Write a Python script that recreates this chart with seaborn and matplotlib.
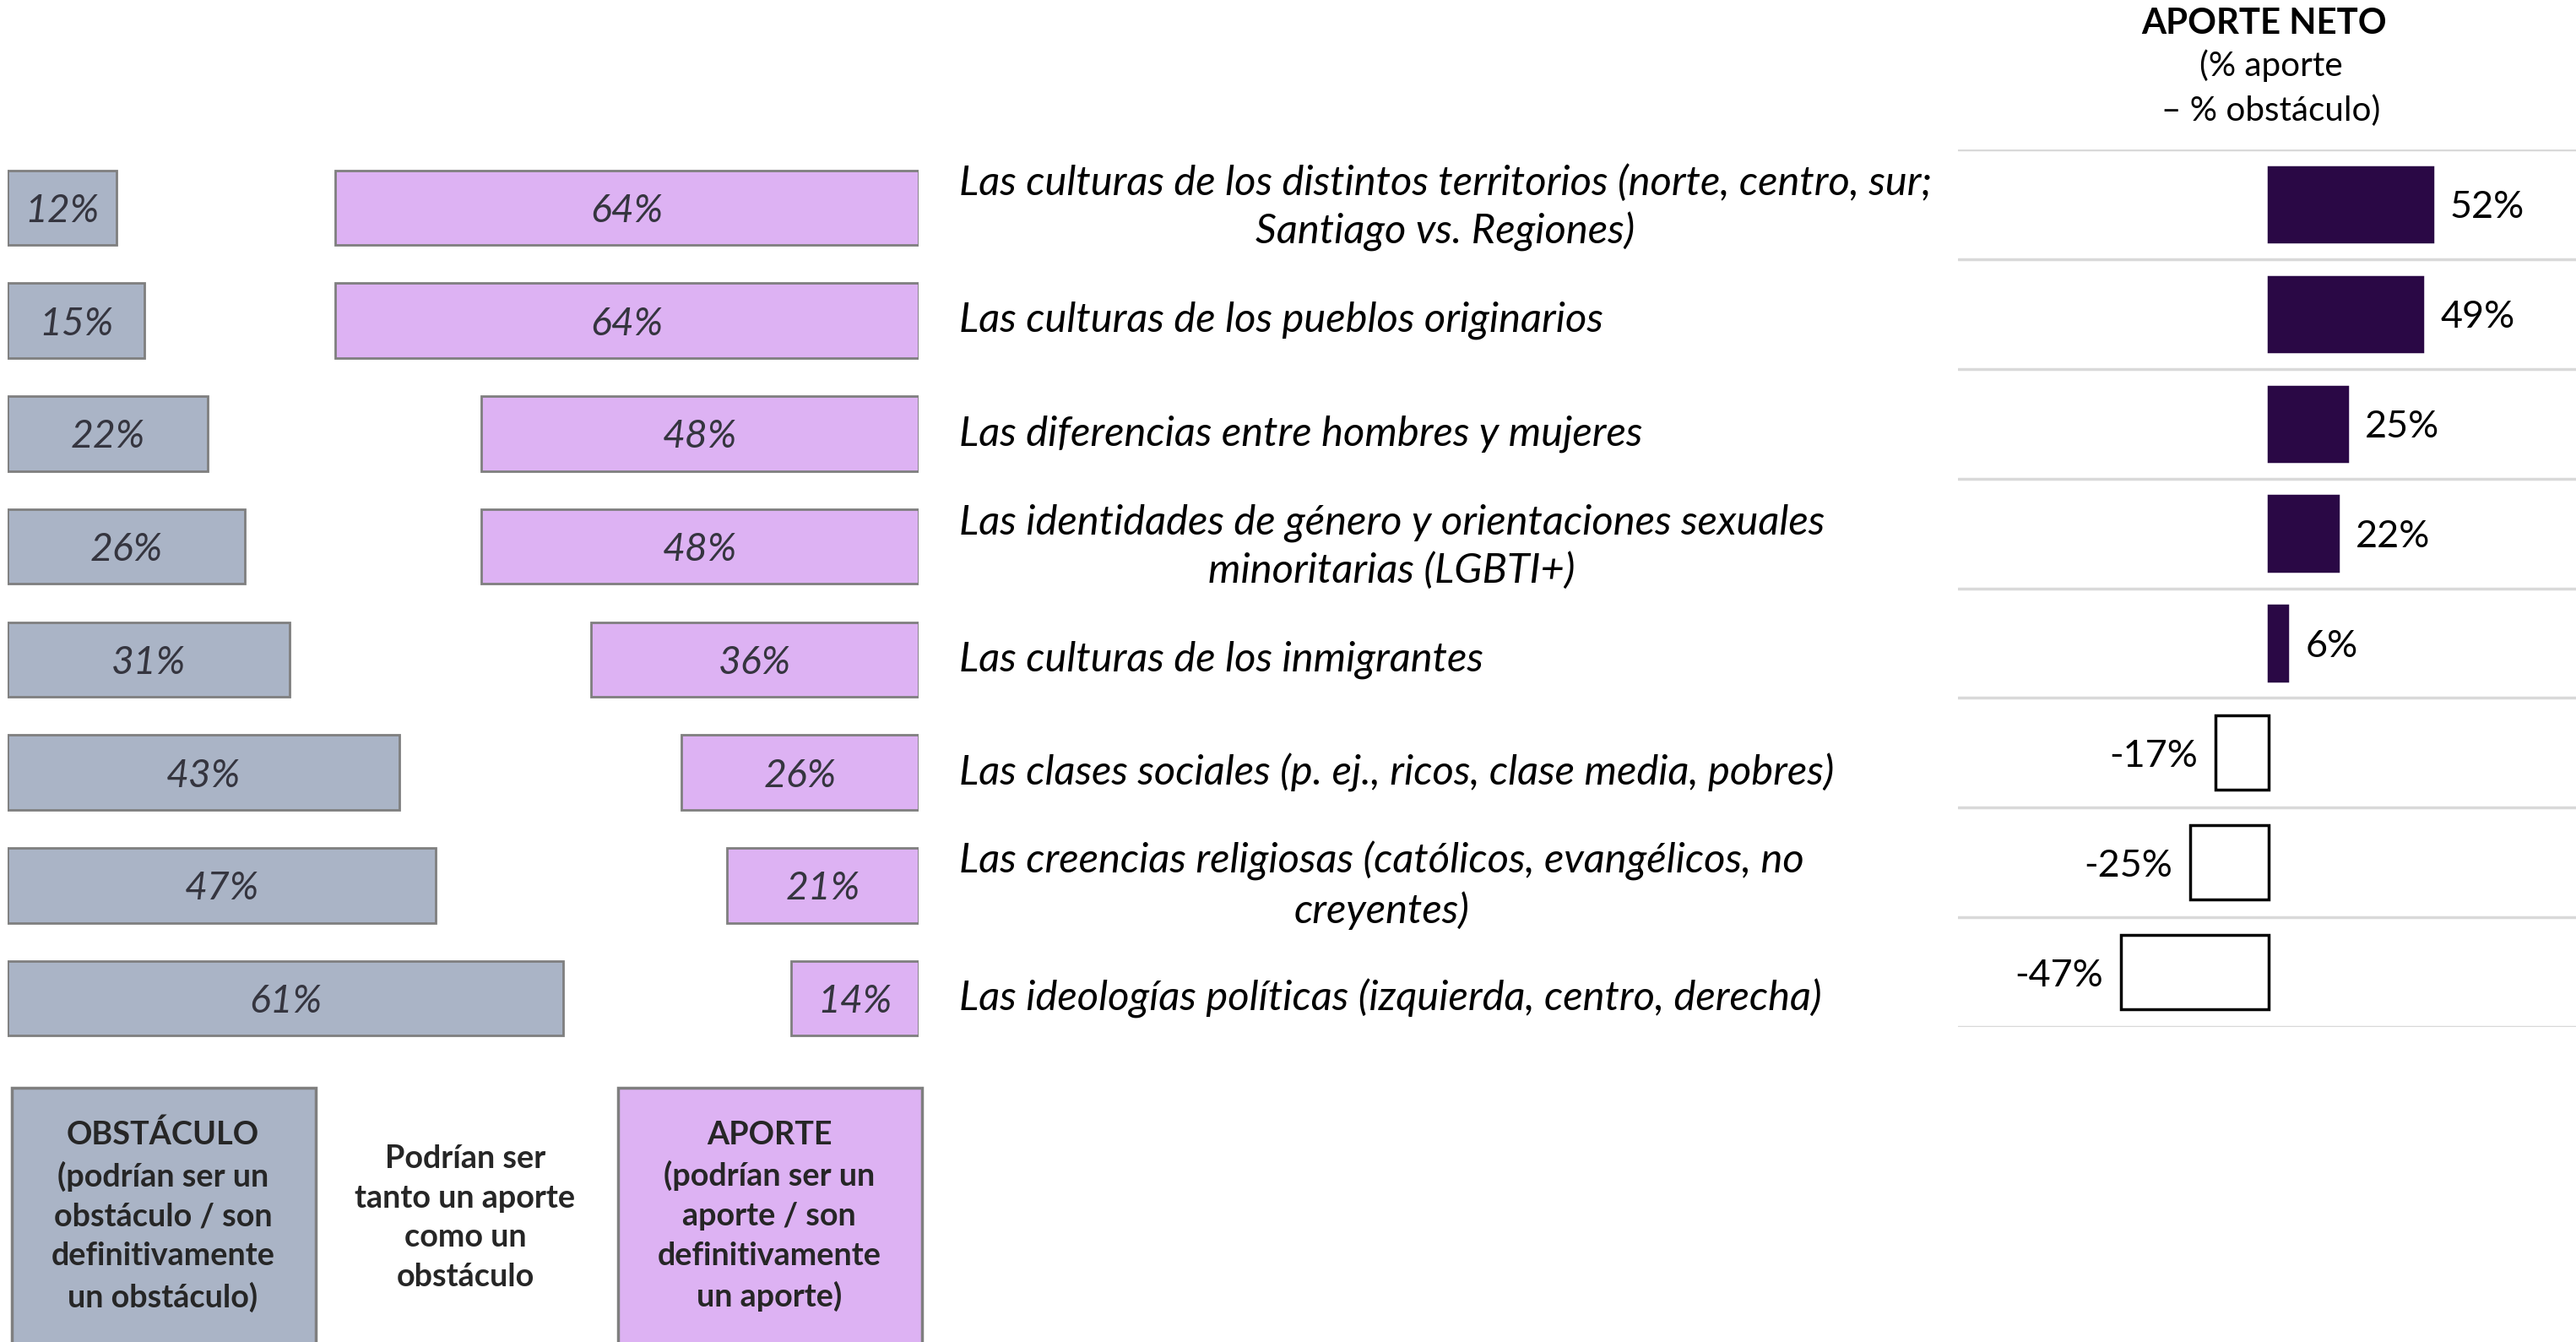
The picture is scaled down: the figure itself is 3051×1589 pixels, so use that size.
import matplotlib
matplotlib.use("Agg")
import matplotlib.pyplot as plt
import matplotlib.transforms as mtransforms
from matplotlib.patches import Rectangle
import seaborn as sns
import pandas as pd

# ---------------- data ----------------
categorias = [
    "Las culturas de los distintos territorios (norte, centro, sur;\nSantiago vs. Regiones)",
    "Las culturas de los pueblos originarios",
    "Las diferencias entre hombres y mujeres",
    "Las identidades de género y orientaciones sexuales\nminoritarias (LGBTI+)",
    "Las culturas de los inmigrantes",
    "Las clases sociales (p. ej., ricos, clase media, pobres)",
    "Las creencias religiosas (católicos, evangélicos, no\ncreyentes)",
    "Las ideologías políticas (izquierda, centro, derecha)",
]
obstaculo = [12, 15, 22, 26, 31, 43, 47, 61]
aporte = [64, 64, 48, 48, 36, 26, 21, 14]
aporte_neto = [52, 49, 25, 22, 6, -17, -25, -47]

titulo_neto = "APORTE NETO"
subtitulo_neto = "(% aporte\n– % obstáculo)"
leyenda_obstaculo = "OBSTÁCULO\n(podrían ser un\nobstáculo / son\ndefinitivamente\nun obstáculo)"
leyenda_medio = "Podrían ser\ntanto un aporte\ncomo un\nobstáculo"
leyenda_aporte = "APORTE\n(podrían ser un\naporte / son\ndefinitivamente\nun aporte)"

# ---------------- style ----------------
sns.set_theme(style="white")
FONT = ["Lato", "DejaVu Sans"]
plt.rcParams["font.family"] = FONT

C_OBS = "#AAB4C6"
C_APO = "#DDB2F3"
C_EDGE = "#7F7F7F"
C_NET = "#2A0845"
C_VAL = "#35353F"

W, H = 3051, 1589
fig = plt.figure(figsize=(W / 100, H / 100), dpi=100)
renderer = fig.canvas.get_renderer()


def fx(px):
    return px / W


def fy(py):
    return 1 - py / H


def fit(text, target_px, **kw):
    t = fig.text(0, 0, text, fontsize=20, **kw)
    w = t.get_window_extent(renderer).width
    t.remove()
    return 20 * target_px / w


fs_label = fit("Las culturas de los pueblos originarios", 761, style="italic")
fs_val = fit("64%", 86, style="italic")
fs_net = fit("52%", 88)
fs_head = fit("APORTE NETO", 290, weight="bold")
fs_sub = fit("(% aporte", 170)
fs_leg = fit("definitivamente", 266, weight="bold")

df = pd.DataFrame({"cat": categorias, "obs": obstaculo, "apo": aporte, "net": aporte_neto})

# ---------------- left panel ----------------
L_left, L_right, L_top, L_bot = 9, 1088, 179, 1249
rect_left = [fx(L_left), fy(L_bot), fx(L_right) - fx(L_left), fy(L_top) - fy(L_bot)]
ax1 = fig.add_axes(rect_left)
ax2 = fig.add_axes(rect_left)
for ax in (ax1, ax2):
    ax.patch.set_alpha(0)

sns.barplot(data=df, x="obs", y="cat", orient="h", color=C_OBS, saturation=1,
            width=0.66, edgecolor=C_EDGE, linewidth=2, ax=ax1)
sns.barplot(data=df, x="apo", y="cat", orient="h", color=C_APO, saturation=1,
            width=0.66, edgecolor=C_EDGE, linewidth=2, ax=ax2)
ax1.set_xlim(0, 100)
ax2.set_xlim(100, 0)
for ax in (ax1, ax2):
    ax.set_ylim(len(categorias) - 0.5, -0.5)
    ax.axis("off")

for i, (o, a) in enumerate(zip(obstaculo, aporte)):
    ax1.text(o / 2, i, f"{o}%", ha="center", va="center_baseline", style="italic",
             fontsize=fs_val, color=C_VAL)
    ax2.text(a / 2, i, f"{a}%", ha="center", va="center_baseline", style="italic",
             fontsize=fs_val, color=C_VAL)

# category labels
tr = mtransforms.blended_transform_factory(fig.transFigure, ax1.transData)
for i, c in enumerate(categorias):
    ax1.text(fx(1136), i, c, transform=tr, ha="left", va="center",
             multialignment="center", style="italic", fontsize=fs_label,
             color="black", linespacing=1.32, clip_on=False)

# ---------------- net panel ----------------
N_left, N_right, N_top, N_bot = 2319, 3051, 177, 1216
ax3 = fig.add_axes([fx(N_left), fy(N_bot), fx(N_right) - fx(N_left), fy(N_top) - fy(N_bot)])
ax3.patch.set_alpha(0)
sns.barplot(data=df, x="net", y="cat", orient="h", color=C_NET, saturation=1,
            width=0.68, linewidth=2.5, ax=ax3)
for p, v in zip(ax3.patches, aporte_neto):
    if v < 0:
        p.set_facecolor("white")
        p.set_edgecolor("black")
    else:
        p.set_facecolor(C_NET)
        p.set_edgecolor(C_NET)
ax3.set_xlim(-98.9, 97.8)
ax3.set_ylim(len(categorias) - 0.5, -0.5)
ax3.axis("off")
for k in range(len(categorias) + 1):
    ax3.axhline(k - 0.5, color="#D9D9D9", lw=2.5, zorder=0)
for i, v in enumerate(aporte_neto):
    ax3.annotate(f"{v}%", xy=(v, i), xytext=(15 if v >= 0 else -15, 0),
                 textcoords="offset points", ha="left" if v >= 0 else "right",
                 va="center_baseline", fontsize=fs_net, color="black")

fig.text(fx(2682), fy(25), titulo_neto, ha="center", va="center_baseline",
         weight="bold", fontsize=fs_head, color="black")
fig.text(fx(2690), fy(104), subtitulo_neto, ha="center", va="center",
         fontsize=fs_sub, color="black", linespacing=1.5)

# ---------------- legend boxes ----------------
for x0, x1, col in [(14, 374, C_OBS), (732, 1092, C_APO)]:
    fig.add_artist(Rectangle((fx(x0), fy(1620)), fx(x1) - fx(x0), fy(1288) - fy(1620),
                             transform=fig.transFigure, facecolor=col,
                             edgecolor=C_EDGE, lw=2.5))
fig.text(fx(193), fy(1440), leyenda_obstaculo, ha="center", va="center",
         weight="bold", fontsize=fs_leg, linespacing=1.45)
fig.text(fx(551), fy(1442), leyenda_medio, ha="center", va="center",
         weight="bold", fontsize=fs_leg, linespacing=1.45)
fig.text(fx(911), fy(1440), leyenda_aporte, ha="center", va="center",
         weight="bold", fontsize=fs_leg, linespacing=1.45)

fig.savefig("out.png", dpi=100)
